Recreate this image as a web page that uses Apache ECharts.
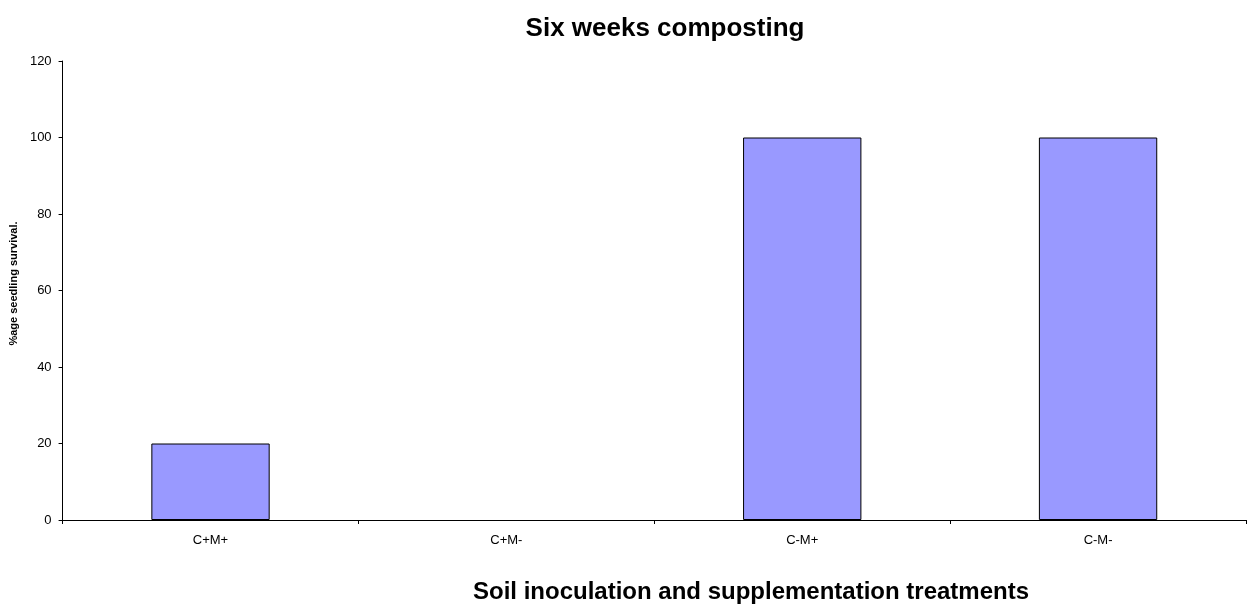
<!DOCTYPE html>
<html>
<head>
<meta charset="utf-8">
<script src="https://cdn.jsdelivr.net/npm/echarts@6/dist/echarts.min.js"></script>
<style>
  html, body { margin: 0; padding: 0; background: #fff; }
  #survivalChart { width: 1252px; height: 607px; }
</style>
</head>
<body>
<div id="survivalChart"></div>
<script>
  var treatments = ['C+M+', 'C+M-', 'C-M+', 'C-M-']
  var survival = [20, 0, 100, 100]
  var yTicks = [0, 20, 40, 60, 80, 100, 120]

  // zero-height bars are not drawn at all in the original
  var barData = survival.map(function (v) {
    return v === 0 ? { value: v, itemStyle: { borderWidth: 0, opacity: 0 } } : v
  })

  var chart = echarts.init(document.getElementById('survivalChart'))
  chart.setOption({
    animation: false,
    textStyle: { fontFamily: 'Liberation Sans, Arial, sans-serif' },
    title: [{
      text: 'Six weeks composting',
      left: 660,
      top: 11,
      textAlign: 'center',
      textStyle: { fontSize: 26, fontWeight: 'bold', color: '#000' }
    }, {
      text: 'Soil inoculation and supplementation treatments',
      left: 746,
      top: 575,
      textAlign: 'center',
      textStyle: { fontSize: 24, fontWeight: 'bold', color: '#000' }
    }],
    grid: {
      left: 62,
      right: 6,
      top: 61,
      bottom: 87
    },
    xAxis: {
      type: 'category',
      data: treatments,
      axisLine: { lineStyle: { color: '#000', width: 1 } },
      axisTick: { show: true, length: 4, lineStyle: { color: '#000' } },
      axisLabel: { color: '#000', fontSize: 13, margin: 14 },
      splitLine: { show: false }
    },
    yAxis: {
      type: 'value',
      min: yTicks[0],
      max: yTicks[yTicks.length - 1],
      interval: 20,
      name: '%age seedling survival.',
      nameLocation: 'middle',
      nameGap: 40,
      nameTextStyle: { fontSize: 11, fontWeight: 'bold', color: '#000', padding: [0, 0, 0, 14] },
      axisLine: { show: true, lineStyle: { color: '#000', width: 1 } },
      axisTick: { show: true, length: 4, lineStyle: { color: '#000' } },
      axisLabel: { color: '#000', fontSize: 13, margin: 11 },
      splitLine: { show: false }
    },
    series: [{
      type: 'bar',
      data: barData,
      barWidth: '40%',
      itemStyle: {
        color: '#9999ff',
        borderColor: '#000',
        borderWidth: 1
      }
    }]
  })
</script>
</body>
</html>
